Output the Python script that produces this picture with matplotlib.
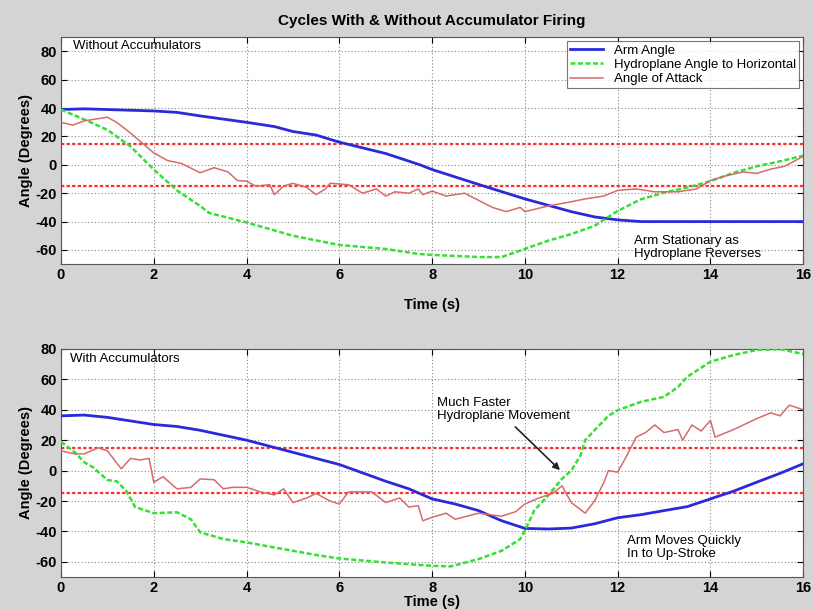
import matplotlib
matplotlib.use("Agg")
import matplotlib.pyplot as plt

plt.rcParams['font.family'] = ['Liberation Sans', 'DejaVu Sans']
plt.rcParams['axes.unicode_minus'] = False

# ---------------- Top panel: Without Accumulators ----------------
arm1_t = [0, 0.5, 1, 2, 2.5, 3, 4, 4.6, 5, 5.5, 6, 6.5, 7, 7.37, 7.74, 8, 9, 10, 11, 11.5, 12, 12.5, 13, 14, 15, 16]
arm1_v = [39, 39.5, 39, 38, 37, 34.5, 30, 27, 23.5, 21, 16, 12, 8, 4, 0, -3.3, -13.8, -24, -33, -36.7, -38.8, -40, -40, -40, -40, -40]

hyd1_t = [0, 0.5, 1, 1.5, 2, 2.5, 3, 3.2, 4, 5, 6, 7, 7.7, 8, 9, 9.5, 10, 10.5, 11, 11.5, 12, 12.5, 13, 13.5, 14, 14.5, 15, 15.5, 16]
hyd1_v = [39, 32, 24.7, 13, -3.3, -18, -29, -34, -40.6, -50, -56.5, -59.3, -62.8, -63.5, -65, -65, -59.3, -53.5, -48.8, -43, -32.5, -24.3, -19.6, -16, -11.5, -5.6, -1, 2.5, 6.5]

aoa1_t = [0, 0.25, 0.5, 1, 1.2, 1.5, 2, 2.3, 2.6, 3, 3.3, 3.6, 3.8, 4, 4.2, 4.5, 4.6, 4.8, 5, 5.3, 5.5, 5.7, 5.8, 6.2, 6.5, 6.8, 7, 7.2, 7.5, 7.7, 7.8, 8, 8.3, 8.7, 9, 9.3, 9.6, 9.9, 10, 10.5, 11, 11.3, 11.7, 12, 12.4, 12.8, 13.3, 13.7, 14, 14.3, 14.7, 15, 15.3, 15.6, 16]
aoa1_v = [30, 28, 31, 33.6, 30, 22.4, 8.4, 3, 1, -5.6, -2, -5, -11, -11.5, -15, -14, -21, -15, -13, -16, -21, -17, -13, -14, -20, -17, -22, -19, -20, -17, -21, -18.5, -22, -20, -25, -30, -33, -30, -33, -29, -26, -24, -22, -18, -17, -19, -19, -17, -11, -8, -5, -6, -3, -1, 6]

# ---------------- Bottom panel: With Accumulators ----------------
arm2_t = [0, 0.5, 1, 2, 2.5, 3, 4, 5, 5.5, 6, 7, 7.5, 8, 8.5, 9, 9.5, 10, 10.5, 11, 11.5, 12, 12.5, 13, 13.5, 14, 14.5, 15, 15.5, 16]
arm2_v = [36, 36.5, 35, 30.3, 29, 26.5, 20, 12, 8, 4, -7, -12, -18.6, -22, -26.3, -33, -38, -38.4, -37.8, -35, -31, -29, -26.3, -23.7, -18.6, -13.5, -7.6, -1.8, 4.5]

hyd2_t = [0, 0.3, 0.5, 0.7, 1, 1.2, 1.4, 1.6, 2, 2.5, 2.8, 3, 3.5, 4, 4.5, 5, 5.5, 6, 7, 7.7, 8, 8.4, 9, 9.5, 9.9, 10, 10.2, 10.5, 10.8, 11, 11.2, 11.3, 11.5, 11.8, 12, 12.5, 13, 13.3, 13.5, 14, 14.5, 15, 15.5, 16]
hyd2_v = [19, 12, 5.5, 2, -6.2, -7, -13, -24, -28, -27.4, -32, -40.6, -45, -47.2, -50, -52.7, -55.5, -57.8, -60.4, -62, -62.6, -63, -58.2, -52.7, -45, -39.5, -26.3, -16.4, -5.4, 0, 10, 20, 26.5, 36, 39.7, 45.2, 48.5, 55, 61.7, 71.6, 76, 79.3, 79.8, 76.7]

aoa2_t = [0, 0.3, 0.5, 0.8, 1, 1.3, 1.5, 1.7, 1.9, 2, 2.2, 2.5, 2.8, 3, 3.3, 3.5, 3.7, 4, 4.3, 4.6, 4.8, 5, 5.3, 5.5, 5.8, 6, 6.2, 6.7, 7, 7.3, 7.5, 7.7, 7.8, 8, 8.3, 8.5, 9, 9.5, 9.8, 10, 10.3, 10.6, 10.8, 11, 11.3, 11.5, 11.7, 11.8, 12, 12.2, 12.4, 12.6, 12.8, 13, 13.3, 13.4, 13.6, 13.8, 14, 14.1, 14.5, 15, 15.3, 15.5, 15.7, 16]
aoa2_v = [13, 11, 11, 15, 13, 1.2, 8, 7, 8, -7.7, -4, -12, -11, -5.5, -6, -12, -11, -11, -14, -16, -12, -21, -18, -15, -20, -22, -14, -14, -21, -18, -24, -23, -33, -30.7, -28, -32, -28, -30, -27, -22, -18, -15, -10, -21, -28, -20, -8, 0, -1, 10, 22, 25, 30, 25, 27, 20, 30, 26, 33, 22, 27, 34.2, 38, 36, 43, 40]

limit_lines = [15, -15]
x_ticks = [0, 2, 4, 6, 8, 10, 12, 14, 16]
y_ticks = [-60, -40, -20, 0, 20, 40, 60, 80]

BLUE = '#2a2ad8'
GREEN = '#33e033'
RED = '#d86a6a'
LIMRED = '#ff3030'

fig = plt.figure(figsize=(8.13, 6.10), dpi=100, facecolor='#d4d4d4')
ax1 = fig.add_axes([0.075, 0.567, 0.913, 0.372])
ax2 = fig.add_axes([0.075, 0.054, 0.913, 0.374])

def style(ax, ylim, xpad):
    ax.set_xlim(0, 16)
    ax.set_ylim(*ylim)
    ax.set_xticks(x_ticks)
    ax.set_yticks(y_ticks)
    ax.grid(True, linestyle=(0, (1, 2)), color='#888888', linewidth=0.8)
    ax.tick_params(direction='in', labelsize=10.5, length=4, top=True, right=True, pad=3)
    for lab in ax.get_xticklabels() + ax.get_yticklabels():
        lab.set_fontweight('bold')
    for s in ax.spines.values():
        s.set_color('#555555')
    ax.set_xlabel('Time (s)', fontsize=10.5, fontweight='bold', labelpad=xpad)
    ax.set_ylabel('Angle (Degrees)', fontsize=10.5, fontweight='bold', labelpad=2)
    for v in limit_lines:
        ax.axhline(v, color=LIMRED, linestyle=(0, (1.5, 1)), linewidth=1.6, zorder=1)

style(ax1, (-70, 90), 11)
style(ax2, (-70, 80), 0)

ax1.plot(arm1_t, arm1_v, color=BLUE, linewidth=2, label='Arm Angle', zorder=3)
ax1.plot(hyd1_t, hyd1_v, color=GREEN, linewidth=1.8, linestyle=(0, (2, 1)), label='Hydroplane Angle to Horizontal', zorder=3)
ax1.plot(aoa1_t, aoa1_v, color=RED, linewidth=1.1, label='Angle of Attack', zorder=3)

ax2.plot(arm2_t, arm2_v, color=BLUE, linewidth=2, zorder=3)
ax2.plot(hyd2_t, hyd2_v, color=GREEN, linewidth=1.8, linestyle=(0, (2, 1)), zorder=3)
ax2.plot(aoa2_t, aoa2_v, color=RED, linewidth=1.1, zorder=3)

leg = ax1.legend(loc='upper right', fontsize=9.5, frameon=True, fancybox=False,
                 borderpad=0.25, labelspacing=0.15, handlelength=2.5, borderaxespad=0.3)
leg.get_frame().set_edgecolor('#555555')
leg.get_frame().set_linewidth(0.8)

ax1.text(0.25, 84, 'Without Accumulators', fontsize=9.5, va='center', ha='left')
ax1.text(12.35, -58.5, 'Arm Stationary as\nHydroplane Reverses', fontsize=9.5, va='center', ha='left', linespacing=1.1)

ax2.text(0.2, 73.5, 'With Accumulators', fontsize=9.5, va='center', ha='left')
ax2.text(8.1, 40, 'Much Faster\nHydroplane Movement', fontsize=9.5, va='center', ha='left', linespacing=1.1)
ax2.annotate('', xy=(10.8, -1), xytext=(9.75, 30),
             arrowprops=dict(arrowstyle='-|>', color='#222222', lw=1.2, mutation_scale=10))
ax2.text(12.2, -50.5, 'Arm Moves Quickly\nIn to Up-Stroke', fontsize=9.5, va='center', ha='left', linespacing=1.1)

fig.text(0.531, 0.965, 'Cycles With & Without Accumulator Firing', fontsize=11, fontweight='bold',
         ha='center', va='center')

fig.savefig('out.png', dpi=100, facecolor=fig.get_facecolor())
